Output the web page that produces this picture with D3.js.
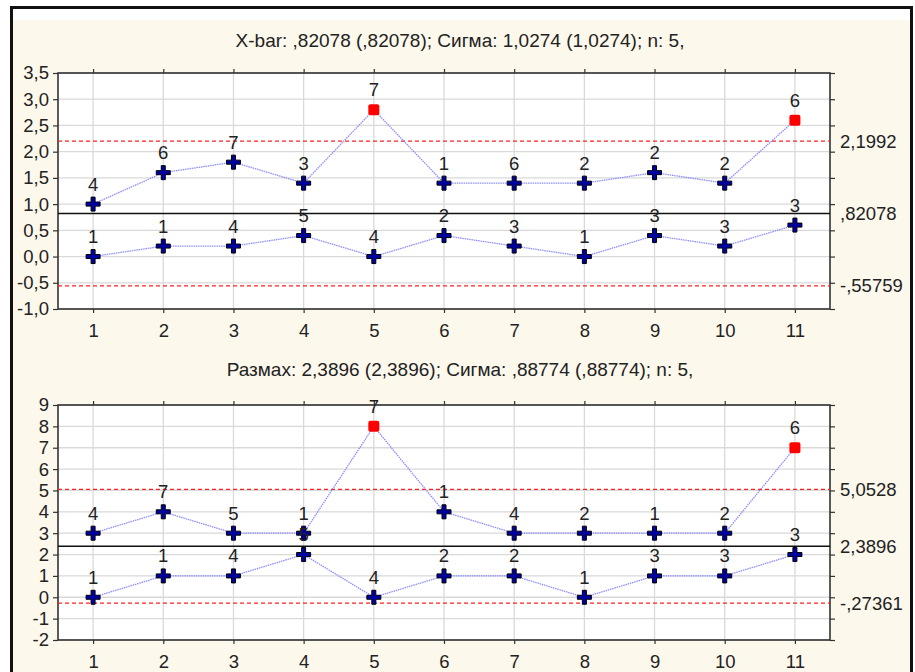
<!DOCTYPE html>
<html><head><meta charset="utf-8">
<script src="https://cdn.jsdelivr.net/npm/d3@7"></script>
<style>
html,body{margin:0;padding:0;background:#fff;}
svg text{font-family:"Liberation Sans",Arial,sans-serif;fill:#222;}
</style></head>
<body><svg id="c" width="915" height="672"></svg>
<script>
const samples = [1,2,3,4,5,6,7,8,9,10,11];

// X-bar chart
const xbarTitle = "X-bar: ,82078 (,82078); Сигма: 1,0274 (1,0274); n: 5,";
const xbarHigh = [1.0,1.6,1.8,1.4,2.8,1.4,1.4,1.4,1.6,1.4,2.6];
const xbarHighLabels = ["4","6","7","3","7","1","6","2","2","2","6"];
const xbarLow = [0,0.2,0.2,0.4,0,0.4,0.2,0,0.4,0.2,0.6];
const xbarLowLabels = ["1","1","4","5","4","2","3","1","3","3","3"];
const xbarOut = [false,false,false,false,true,false,false,false,false,false,true];
const xbarLimits = {ucl:2.1992, cl:0.82078, lcl:-0.55759};
const xbarLimitLabels = ["2,1992",",82078","-,55759"];
const xbarTicks = [-1,-0.5,0,0.5,1,1.5,2,2.5,3,3.5];
const xbarTickLabels = ["-1,0","-0,5","0,0","0,5","1,0","1,5","2,0","2,5","3,0","3,5"];

// Range chart
const rTitle = "Размах: 2,3896 (2,3896); Сигма: ,88774 (,88774); n: 5,";
const rHigh = [3,4,3,3,8,4,3,3,3,3,7];
const rHighLabels = ["4","7","5","1","7","1","4","2","1","2","6"];
const rLow = [0,1,1,2,0,1,1,0,1,1,2];
const rLowLabels = ["1","1","4","5","4","2","2","1","3","3","3"];
const rOut = [false,false,false,false,true,false,false,false,false,false,true];
const rLimits = {ucl:5.0528, cl:2.3896, lcl:-0.27361};
const rLimitLabels = ["5,0528","2,3896","-,27361"];
const rTicks = [-2,-1,0,1,2,3,4,5,6,7,8,9];
const rTickLabels = ["-2","-1","0","1","2","3","4","5","6","7","8","9"];

const FS = 18.5;
const svg = d3.select("#c");
// frame
svg.append("rect").attr("x",13).attr("y",20).attr("width",897).attr("height",660).attr("fill","#fdf8ec");
svg.append("rect").attr("x",11.5).attr("y",7.5).attr("width",900).attr("height",680)
  .attr("fill","none").attr("stroke","#111").attr("stroke-width",3);

function panel(o){
  const L=58,R=830,T=o.top,B=o.bottom;
  const x=d3.scaleLinear().domain([0.5,11.5]).range([L,R]);
  const y=d3.scaleLinear().domain(o.domain).range([B,T]);
  const g=svg.append("g");
  g.append("text").attr("x",o.titleX).attr("y",o.titleY).attr("text-anchor","middle")
    .style("font-size","19px").text(o.title);
  g.append("rect").attr("x",L).attr("y",T).attr("width",R-L).attr("height",B-T).attr("fill","#fff");
  // grid
  g.selectAll(".gy").data(o.ticks).join("line").attr("x1",L).attr("x2",R)
    .attr("y1",d=>y(d)).attr("y2",d=>y(d)).attr("stroke","#d9d9d9").attr("stroke-width",1.3);
  g.selectAll(".gx").data(samples).join("line").attr("y1",T).attr("y2",B)
    .attr("x1",d=>x(d)).attr("x2",d=>x(d)).attr("stroke","#d9d9d9").attr("stroke-width",1.3);
  // axes
  const ax=g.append("g").attr("transform",`translate(${L},0)`)
    .call(d3.axisLeft(y).tickValues(o.ticks).tickFormat((d,i)=>o.tickLabels[i]).tickSize(5).tickPadding(4));
  const axr=g.append("g").attr("transform",`translate(${R},0)`)
    .call(d3.axisRight(y).tickValues(o.ticks).tickFormat("").tickSize(5));
  const axb=g.append("g").attr("transform",`translate(0,${B})`)
    .call(d3.axisBottom(x).tickValues(samples).tickFormat(d3.format("d")).tickSize(4).tickPadding(11));
  const axt=g.append("g").attr("transform",`translate(0,${T})`)
    .call(d3.axisTop(x).tickValues(samples).tickFormat("").tickSize(4));
  [ax,axr,axb,axt].forEach(a=>{a.attr("font-size",FS).attr("font-family","Liberation Sans, Arial, sans-serif");
    a.select(".domain").remove();a.selectAll("line").attr("stroke","#333").attr("stroke-width",1.2);
    a.selectAll("text").style("font-size",FS+"px").attr("fill","#222");});
  g.append("rect").attr("x",L).attr("y",T).attr("width",R-L).attr("height",B-T)
    .attr("fill","none").attr("stroke","#333").attr("stroke-width",1.6);
  // limits
  [o.limits.ucl,o.limits.lcl].forEach(v=>{
    g.append("line").attr("x1",L).attr("x2",R).attr("y1",y(v)).attr("y2",y(v))
      .attr("stroke","#ff2020").attr("stroke-width",1.3).attr("stroke-dasharray","4,3");
  });
  g.append("line").attr("x1",L).attr("x2",R).attr("y1",y(o.limits.cl)).attr("y2",y(o.limits.cl))
    .attr("stroke","#111").attr("stroke-width",1.5);
  [o.limits.ucl,o.limits.cl,o.limits.lcl].forEach((v,i)=>{
    g.append("text").attr("x",R+10).attr("y",y(v)+6.5).style("font-size",FS+"px").text(o.limitLabels[i]);
  });
  // series
  const line=d3.line().x((d,i)=>x(samples[i])).y(d=>y(d));
  [[o.high,o.highLabels,o.out],[o.low,o.lowLabels,samples.map(()=>false)]].forEach(([vals,labs,out])=>{
    g.append("path").attr("d",line(vals)).attr("fill","none").attr("stroke","#7070ff")
      .attr("stroke-width",1.3).attr("stroke-dasharray","1.5,0.8").attr("opacity",0.8);
    vals.forEach((v,i)=>{
      const cx=x(samples[i]),cy=y(v);
      if(out[i]){
        g.append("rect").attr("x",cx-5.5).attr("y",cy-5.5).attr("width",11).attr("height",11).attr("rx",2).attr("fill","#ff0000");
      } else {
        const p=`M${cx-7},${cy-2} h5 v-5 h4 v5 h5 v4 h-5 v5 h-4 v-5 h-5 Z`;
        g.append("path").attr("d",p).attr("fill","#0000a0").attr("stroke","#000").attr("stroke-width",1);
      }
    });
    g.selectAll(null).data(vals).join("text").attr("x",(d,i)=>x(samples[i])).attr("y",d=>y(d)-13.5)
      .attr("text-anchor","middle").style("font-size",FS+"px").text((d,i)=>labs[i]);
  });
}

panel({top:73,bottom:309,domain:[-1,3.5],ticks:xbarTicks,tickLabels:xbarTickLabels,
  title:xbarTitle,titleX:460,titleY:47,limits:xbarLimits,limitLabels:xbarLimitLabels,
  high:xbarHigh,highLabels:xbarHighLabels,low:xbarLow,lowLabels:xbarLowLabels,out:xbarOut});
panel({top:405,bottom:640,domain:[-2,9],ticks:rTicks,tickLabels:rTickLabels,
  title:rTitle,titleX:460,titleY:376,limits:rLimits,limitLabels:rLimitLabels,
  high:rHigh,highLabels:rHighLabels,low:rLow,lowLabels:rLowLabels,out:rOut});
</script></body></html>
